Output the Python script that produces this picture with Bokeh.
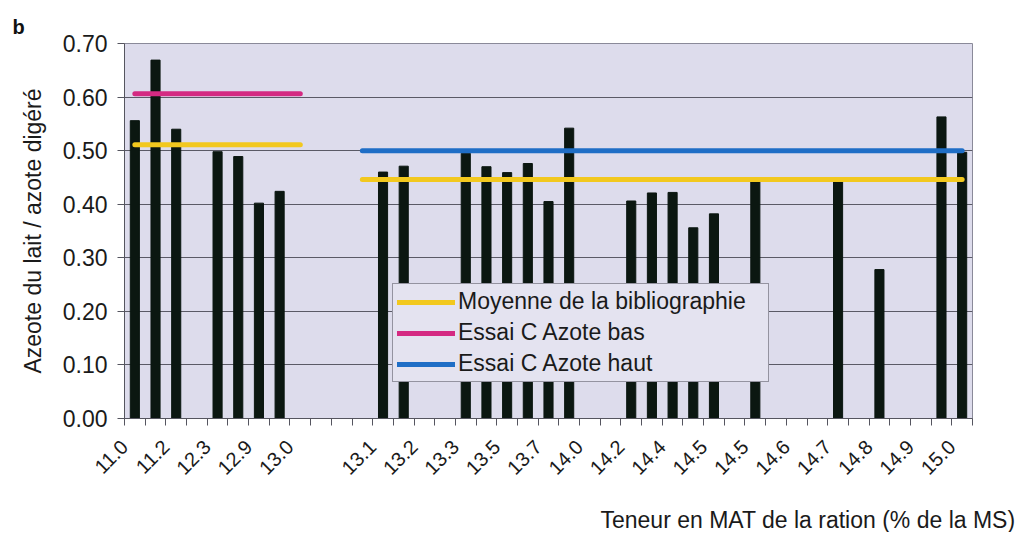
import math
from bokeh.plotting import figure
from bokeh.models import (ColumnDataSource, FixedTicker, Legend, LegendItem, Title, Label,
                          NumeralTickFormatter, Range1d)
from bokeh.embed import file_html
from bokeh.resources import INLINE

# ---------------- data ----------------
n_categories = 41
# labels shown under every second category (Excel skips the others)
tick_labels = ["11.0", "11.2", "12.3", "12.9", "13.0", "", "13.1", "13.2", "13.3", "13.5",
               "13.7", "14.0", "14.2", "14.4", "14.5", "14.5", "14.6", "14.7", "14.8", "14.9", "15.0"]

bar_index = [0, 1, 2, 4, 5, 6, 7, 12, 13, 16, 17, 18, 19, 20, 21, 24, 25, 26, 27, 28, 30, 34, 36, 39, 40]
bar_values = [0.556, 0.669, 0.540, 0.498, 0.489, 0.402, 0.424, 0.460, 0.471, 0.495, 0.470, 0.459,
              0.476, 0.405, 0.542, 0.406, 0.421, 0.422, 0.356, 0.382, 0.442, 0.442, 0.278, 0.563, 0.497]

# reference lines : (first category, last category, value)
biblio_segments = [(0, 8, 0.511), (11, 40, 0.446)]
low_segments = [(0, 8, 0.606)]
high_segments = [(11, 40, 0.500)]

y_ticks = [0.0, 0.1, 0.2, 0.3, 0.4, 0.5, 0.6, 0.7]

FONT = "Liberation Sans"
TXT = "#1a1a1a"

# ---------------- figure ----------------
p = figure(width=1016, height=532, output_backend="svg", toolbar_location=None,
           x_range=Range1d(0, n_categories), y_range=Range1d(0, 0.7),
           min_border_left=124, min_border_right=44, min_border_top=43, min_border_bottom=114)
p.background_fill_color = "#dddcec"
p.border_fill_color = "white"
p.outline_line_color = "#8a8a99"
p.outline_line_width = 1

p.xgrid.visible = False
p.ygrid.grid_line_color = "#5a5a66"
p.ygrid.grid_line_width = 1

# bars
src = ColumnDataSource(dict(x=[i + 0.5 for i in bar_index], top=bar_values))
p.vbar(x="x", top="top", width=0.44, bottom=0, source=src,
       fill_color="#0b1711", line_color="#0b1711")

def seg_data(segs):
    xs = [[a + 0.5, b + 0.5] for a, b, v in segs]
    ys = [[v, v] for a, b, v in segs]
    return xs, ys

xs, ys = seg_data(biblio_segments)
r_bib = p.multi_line(xs=xs, ys=ys, line_color="#f2c81e", line_width=5, line_cap="round")
xs, ys = seg_data(low_segments)
r_low = p.multi_line(xs=xs, ys=ys, line_color="#d42a82", line_width=5, line_cap="round")
xs, ys = seg_data(high_segments)
r_high = p.multi_line(xs=xs, ys=ys, line_color="#1f6ec6", line_width=5, line_cap="round")

# axes
p.yaxis.ticker = FixedTicker(ticks=y_ticks)
p.yaxis.formatter = NumeralTickFormatter(format="0.00")
p.yaxis.major_tick_out = 7
p.yaxis.major_tick_in = 0
p.yaxis.minor_tick_out = 0
p.yaxis.minor_tick_in = 0
p.yaxis.major_label_standoff = 10
p.yaxis.major_label_text_font = FONT
p.yaxis.major_label_text_font_size = "23px"
p.yaxis.major_label_text_color = TXT
p.yaxis.axis_line_color = "#55555f"
p.yaxis.major_tick_line_color = "#55555f"
p.yaxis.axis_label = "Azeote du lait / azote digéré"
p.yaxis.axis_label_text_font = FONT
p.yaxis.axis_label_text_font_size = "23px"
p.yaxis.axis_label_text_font_style = "normal"
p.yaxis.axis_label_text_color = TXT
p.yaxis.axis_label_standoff = 14

p.xaxis.ticker = FixedTicker(ticks=list(range(n_categories + 1)))
overrides = {i: "" for i in range(n_categories + 1)}
for k, lab in enumerate(tick_labels):
    overrides[2 * k] = lab
p.xaxis.major_label_overrides = overrides
p.xaxis.major_label_orientation = math.pi / 4
p.xaxis.major_tick_out = 7
p.xaxis.major_tick_in = 0
p.xaxis.minor_tick_out = 0
p.xaxis.minor_tick_in = 0
p.xaxis.major_label_standoff = 18
p.xaxis.major_label_text_font = FONT
p.xaxis.major_label_text_font_size = "20px"
p.xaxis.major_label_text_color = TXT
p.xaxis.axis_line_color = "#55555f"
p.xaxis.major_tick_line_color = "#55555f"

# legend
legend = Legend(items=[LegendItem(label="Moyenne de la bibliographie", renderers=[r_bib]),
                       LegendItem(label="Essai C Azote bas", renderers=[r_low]),
                       LegendItem(label="Essai C Azote haut", renderers=[r_high])],
                location=(268, 36), orientation="vertical")
legend.label_text_font = FONT
legend.label_text_font_size = "23px"
legend.label_text_color = TXT
legend.glyph_width = 58
legend.glyph_height = 24
legend.label_height = 24
legend.label_width = 306
legend.label_standoff = 3
legend.spacing = 4
legend.padding = 4
legend.margin = 0
legend.background_fill_color = "#e4e3f0"
legend.background_fill_alpha = 1.0
legend.border_line_color = "#444450"
legend.border_line_width = 1
p.add_layout(legend, "center")

# x-axis title (right aligned under the chart), placed in the bottom panel so it is not clipped
p.add_layout(Label(x=891, y=-10, x_units="screen", y_units="screen",
                   text="Teneur en MAT de la ration (% de la MS)", text_align="right",
                   text_baseline="alphabetic", text_font=FONT, text_font_size="23px",
                   text_color=TXT), "below")
p.add_layout(Title(text="b", align="left", offset=-112, standoff=12, text_font=FONT,
                   text_font_size="20px", text_font_style="bold", text_color="#111111"), "above")

open("out.html", "w").write(file_html(p, INLINE))
